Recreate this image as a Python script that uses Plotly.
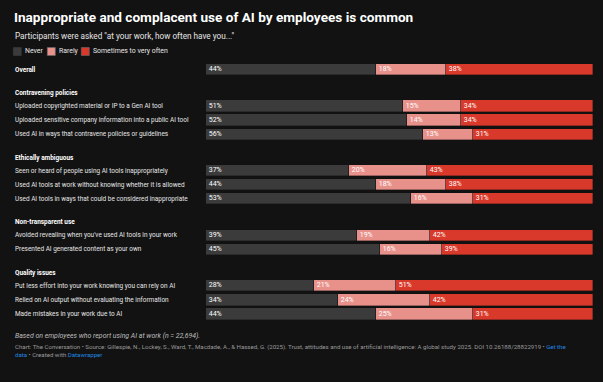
import plotly.graph_objects as go

# ---------------- data ----------------
groups = ["", "Contravening policies", "Ethically ambiguous", "Non-transparent use", "Quality issues"]
group_rows = [
    ["Overall"],
    ["Uploaded copyrighted material or IP to a Gen AI tool",
     "Uploaded sensitive company information into a public AI tool",
     "Used AI in ways that contravene policies or guidelines"],
    ["Seen or heard of people using AI tools inappropriately",
     "Used AI tools at work without knowing whether it is allowed",
     "Used AI tools in ways that could be considered inappropriate"],
    ["Avoided revealing when you've used AI tools in your work",
     "Presented AI generated content as your own"],
    ["Put less effort into your work knowing you can rely on AI",
     "Relied on AI output without evaluating the information",
     "Made mistakes in your work due to AI"],
]
never = [44, 51, 52, 56, 37, 44, 53, 39, 45, 28, 34, 44]
rarely = [18, 15, 14, 13, 20, 18, 16, 19, 16, 21, 24, 25]
sometimes = [38, 34, 34, 31, 43, 38, 31, 42, 39, 51, 42, 31]
series_names = ["Never", "Rarely", "Sometimes to very often"]
series_colors = ["#3b3b3b", "#e8918b", "#d8392b"]

BG = "#121212"
W, H = 603, 382
FONT = "Roboto"

# ---------------- layout of rows ----------------
labels, ypos, headers = [], [], []
pos = 0.0
for gi, (g, rows) in enumerate(zip(groups, group_rows)):
    if gi > 0:
        pos += 2.6
        headers.append((g, pos - 0.93))
    for j, r in enumerate(rows):
        if j > 0:
            pos += 1.0
        labels.append(r)
        ypos.append(pos)

px_per_unit = 14.05
y0_px = 69.5
y_top = -y0_px / px_per_unit
y_bot = (H - y0_px) / px_per_unit


def py(p):
    return 1 - p / H


def pxx(p):
    return p / W


fig = go.Figure()
for name, vals, col in zip(series_names, [never, rarely, sometimes], series_colors):
    fig.add_trace(go.Bar(
        x=vals, y=ypos, orientation="h", name=name,
        marker=dict(color=col, line=dict(color="rgba(18,18,18,0.6)", width=0.6)),
        width=0.8,
        text=[f"{v}%" for v in vals], textposition="inside", insidetextanchor="start",
        textfont=dict(family=FONT, size=7, color="#ffffff"),
        hoverinfo="skip", showlegend=False,
    ))

annotations = []
LAB = 6.45
for lab, y in zip(labels, ypos):
    txt = f"<b>{lab}</b>" if lab == "Overall" else lab
    annotations.append(dict(text=txt, x=pxx(13), xref="paper", y=y, yref="y",
                            xanchor="left", yanchor="middle", showarrow=False,
                            font=dict(family=FONT, size=LAB, color="#e6e6e6" if lab != "Overall" else "#ffffff")))
for g, y in headers:
    annotations.append(dict(text=f"<b>{g}</b>", x=pxx(13), xref="paper", y=y, yref="y",
                            xanchor="left", yanchor="middle", showarrow=False,
                            font=dict(family=FONT, size=LAB, color="#ffffff")))

# title, subtitle
annotations.append(dict(text="<b>Inappropriate and complacent use of AI by employees is common</b>",
                        x=pxx(12), xref="paper", y=py(17.5), yref="paper", xanchor="left", yanchor="middle",
                        showarrow=False, font=dict(family=FONT, size=13.6, color="#ffffff")))
annotations.append(dict(text="Participants were asked \"at your work, how often have you...\"",
                        x=pxx(13), xref="paper", y=py(36), yref="paper", xanchor="left", yanchor="middle",
                        showarrow=False, font=dict(family=FONT, size=8.2, color="#e6e6e6")))

# legend
shapes = []
leg_x = [13.3, 47.3, 81.3]
for name, col, lx in zip(series_names, series_colors, leg_x):
    shapes.append(dict(type="rect", xref="paper", yref="paper", x0=pxx(lx), x1=pxx(lx + 8),
                       y0=py(55.5), y1=py(47.5), fillcolor=col,
                       line=dict(color="#6a6a6a" if name != "Never" else col, width=0.6)))
    annotations.append(dict(text=name, x=pxx(lx + 9.5), xref="paper", y=py(51.5), yref="paper",
                            xanchor="left", yanchor="middle", showarrow=False,
                            font=dict(family=FONT, size=6.9, color="#e6e6e6")))

# notes
annotations.append(dict(text="<i>Based on employees who report using AI at work (n = 22,694).</i>",
                        x=pxx(13), xref="paper", y=py(336), yref="paper", xanchor="left", yanchor="middle",
                        showarrow=False, font=dict(family=FONT, size=6.95, color="#bdbdbd")))
annotations.append(dict(text="Chart: The Conversation • Source: Gillespie, N., Lockey, S., Ward, T., Macdade, A., &amp; Hassed, G. (2025). Trust, attitudes and use of artificial intelligence: A global study 2025. DOI 10.26188/28822919 • <span style='color:#1f86e0'>Get the</span>",
                        x=pxx(13), xref="paper", y=py(346.5), yref="paper", xanchor="left", yanchor="middle",
                        showarrow=False, font=dict(family=FONT, size=6.1, color="#9a9a9a")))
annotations.append(dict(text="<span style='color:#1f86e0'>data</span> • Created with <span style='color:#1f86e0'>Datawrapper</span>",
                        x=pxx(13), xref="paper", y=py(354.5), yref="paper", xanchor="left", yanchor="middle",
                        showarrow=False, font=dict(family=FONT, size=6.1, color="#9a9a9a")))

fig.update_layout(
    width=W, height=H, barmode="stack",
    paper_bgcolor=BG, plot_bgcolor=BG,
    margin=dict(l=0, r=0, t=0, b=0, pad=0),
    xaxis=dict(domain=[206 / W, 593 / W], range=[0, 100], visible=False, fixedrange=True),
    yaxis=dict(domain=[0, 1], range=[y_bot, y_top], visible=False, fixedrange=True),
    bargap=0, showlegend=False,
    annotations=annotations, shapes=shapes,
    uniformtext=dict(minsize=7, mode="show"),
    font=dict(family=FONT),
)

fig.write_html("out.html", config={"displayModeBar": False},
               post_script="document.body.style.margin='0';document.body.style.background='#121212';document.body.style.overflow='hidden';")
